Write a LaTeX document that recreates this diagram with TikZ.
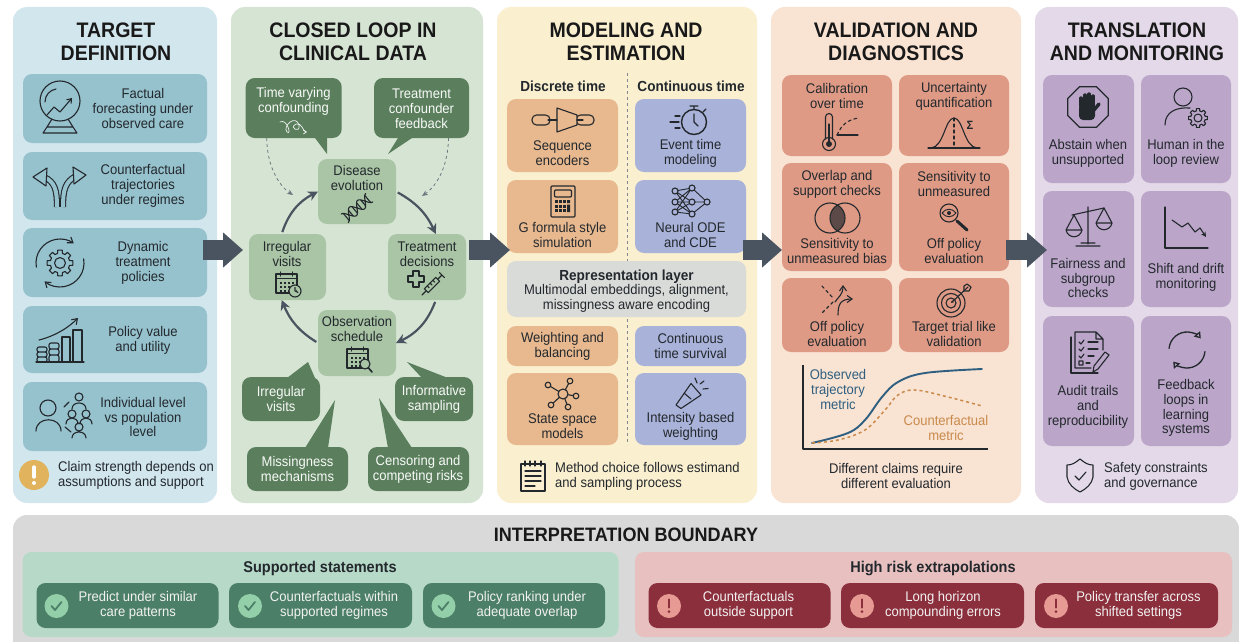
\documentclass[tikz,border=0pt]{standalone}
\usepackage{fontspec}
\setmainfont[FakeStretch=0.93]{Liberation Sans}
\usepackage{xcolor}
\usetikzlibrary{arrows.meta,calc}
\definecolor{ink}{HTML}{23282D}
\definecolor{slate}{HTML}{4A5461}
\definecolor{paleBlue}{HTML}{D2E6EE}
\definecolor{cardTeal}{HTML}{96C2CD}
\definecolor{paleGreen}{HTML}{D6E4D3}
\definecolor{cardSage}{HTML}{A9C5A5}
\definecolor{cardMoss}{HTML}{5B7F5D}
\definecolor{paleCream}{HTML}{FAEFCF}
\definecolor{cardOrange}{HTML}{E8B98F}
\definecolor{cardPeri}{HTML}{A9B2D8}
\definecolor{cardGrey}{HTML}{D9DBD9}
\definecolor{palePeach}{HTML}{F9E3D3}
\definecolor{cardCoral}{HTML}{DE9A85}
\definecolor{paleLilac}{HTML}{E3D9E8}
\definecolor{cardLilac}{HTML}{BBA6C9}
\definecolor{boundary}{HTML}{D9D9D9}
\definecolor{okPale}{HTML}{B7D9C8}
\definecolor{okDark}{HTML}{4C7F68}
\definecolor{okBadgeFill}{HTML}{93CFA8}
\definecolor{riskPale}{HTML}{E8C0C0}
\definecolor{riskDark}{HTML}{8C2F3C}
\definecolor{riskBadgeFill}{HTML}{E69A93}
\definecolor{amber}{HTML}{E0B35C}
\definecolor{obsBlue}{HTML}{2F5F80}
\definecolor{cfOrange}{HTML}{C98A4B}
\tikzset{
  sizeBox/.style 2 args={minimum width=#1, minimum height=#2, inner sep=0, outer sep=0},
  panelBox/.style={rounded corners=14},
  cardBox/.style={rounded corners=9},
  titleText/.style={font=\fontsize{21}{23}\selectfont\bfseries, text=black!90, align=center, inner sep=0},
  cardText/.style={font=\fontsize{14}{14.8}\selectfont, text=ink, align=center, inner sep=0},
  noteText/.style={cardText, align=left},
  calloutText/.style={cardText, text=white!92!cardSage},
  whiteText/.style={cardText, text=white!95!black},
  headText/.style={font=\fontsize{14.6}{16}\selectfont\bfseries, text=ink, align=center, inner sep=0},
  subHead/.style={headText, font=\fontsize{15.6}{17}\selectfont\bfseries},
  iconLine/.style={draw=ink, line width=1.1, line cap=round, line join=round},
  loopArrow/.style={draw=slate, line width=2.2, -{Stealth[length=10pt,width=10pt]}, shorten <=2pt},
  pressureArrow/.style={draw=slate!80, line width=0.8, dashed, -{Stealth[length=6pt,width=5pt]}},
  bigArrow/.style={draw=slate, line width=20, -{Triangle[length=20pt,width=34pt]}},
  gearIcon/.pic={
    \draw[iconLine] (-10:1) \foreach \a in {0,45,...,315} { -- (\a-10:1) -- (\a+10:1) -- (\a+14:.76) -- (\a+31:.76)} -- cycle;
    \draw[iconLine] (0,0) circle (.42);
  },
  calIcon/.pic={
    \draw[iconLine] (-10.5,-9) rectangle (10.5,10);
    \draw[iconLine] (-10.5,-4.5) -- (10.5,-4.5) (-6,-11) -- (-6,-7) (6,-11) -- (6,-7);
    \foreach \i in {-7,-3,1,5} \foreach \j in {-1,3,7} \fill[ink] (\i,\j) rectangle +(2.2,1.8);
  },
  okBadge/.pic={
    \fill[okBadgeFill] (0,0) circle (12);
    \draw[draw=okDark, line width=1.8, line cap=round, line join=round] (-5,0) -- (-1.5,4) -- (5,-4);
  },
  riskBadge/.pic={
    \fill[riskBadgeFill] (0,0) circle (12);
    \draw[draw=riskDark, line width=2.4, line cap=round] (0,-6.5) -- (0,1.5);
    \fill[riskDark] (0,5.6) circle (1.5);
  }
}
\begin{document}
\begin{tikzpicture}[x=1pt,y=-1pt]
  \useasboundingbox (0,0) rectangle (1239,642);
  \clip (0,0) rectangle (1239,642);
  \fill[white] (0,0) rectangle (1239,642);

  % panels
  \node[sizeBox={204}{496}, panelBox, fill=paleBlue] (target) at (115,255) {};
  \node[sizeBox={252}{496}, panelBox, fill=paleGreen] (loop) at (357,255) {};
  \node[sizeBox={260}{496}, panelBox, fill=paleCream] (model) at (627,255) {};
  \node[sizeBox={250}{496}, panelBox, fill=palePeach] (valid) at (896,255) {};
  \node[sizeBox={203}{496}, panelBox, fill=paleLilac] (trans) at (1136.5,255) {};

  \node[titleText] (titleTarget) at (116,41.5) {TARGET\\DEFINITION};
  \node[titleText] (titleLoop) at (353,41.5) {CLOSED LOOP IN\\CLINICAL DATA};
  \node[titleText] (titleModel) at (626,41.5) {MODELING AND\\ESTIMATION};
  \node[titleText] (titleValid) at (896,41.5) {VALIDATION AND\\DIAGNOSTICS};
  \node[titleText] (titleTrans) at (1137,41.5) {TRANSLATION\\AND MONITORING};

  % target definition
  \node[sizeBox={184}{69}, cardBox, fill=cardTeal] (cardFactual) at (115,108.5) {};
  \node[sizeBox={184}{68}, cardBox, fill=cardTeal] (cardCounter) at (115,186) {};
  \node[sizeBox={184}{69}, cardBox, fill=cardTeal] (cardDynamic) at (115,262.5) {};
  \node[sizeBox={184}{67}, cardBox, fill=cardTeal] (cardValue) at (115,339.5) {};
  \node[sizeBox={184}{69}, cardBox, fill=cardTeal] (cardLevel) at (115,416.5) {};
  \node[cardText] (textFactual) at (143,108.5) {Factual\\forecasting under\\observed care};
  \node[cardText] (textCounter) at (143,186) {Counterfactual\\trajectories\\under regimes};
  \node[cardText] (textDynamic) at (143,263) {Dynamic\\treatment\\policies};
  \node[cardText] (textValue) at (143,340) {Policy value\\and utility};
  \node[cardText] (textLevel) at (143,417) {Individual level\\vs population\\level};

  \draw[iconLine] (60,101) circle (20);
  \draw[iconLine] (45,102) .. controls (45,95) and (50,90) .. (56,89);
  \draw[iconLine, -{Straight Barb[length=4pt,width=6pt]}] (47,115) -- (54,107) -- (60,112) -- (72,98);
  \draw[iconLine] (52,119) -- (47,127) -- (73,127) -- (68,119) (47,127) -- (43,133) -- (77,133) -- (73,127);

  \draw[draw=ink, double=cardTeal, double distance=4, line width=1.1] (57,207) .. controls (57,190) and (55,182) .. (44,177);
  \draw[draw=ink, double=cardTeal, double distance=4, line width=1.1] (63,207) .. controls (63,190) and (65,182) .. (76,176);
  \draw[iconLine, fill=cardTeal] (33,177) -- (47,168) -- (46,186) -- cycle;
  \draw[iconLine, fill=cardTeal] (86,175) -- (73,167) -- (74,184) -- cycle;

  \pic[scale=13] at (60,263) {gearIcon};
  \draw[iconLine, -{Straight Barb[length=5pt,width=7pt]}] ($(60,263)+(170:24)$) arc (170:305:24);
  \draw[iconLine, -{Straight Barb[length=5pt,width=7pt]}] ($(60,263)+(-10:24)$) arc (-10:130:24);

  \draw[iconLine] (62,337) rectangle (70,362) (73,330) rectangle (82,362) (36,362) -- (84,362);
  \draw[iconLine, rounded corners=2] (37,347) rectangle (47,352) (37,352) rectangle (47,357) (37,357) rectangle (47,362);
  \draw[iconLine, rounded corners=2] (49,343) rectangle (59,349) (49,349) rectangle (59,355) (49,355) rectangle (59,362);
  \draw[iconLine, -{Straight Barb[length=5pt,width=7pt]}] (39,340) .. controls (55,336) and (68,328) .. (78,318);

  \draw[iconLine] (48,408) circle (8) (36,431) .. controls (36,416) and (61,416) .. (61,431);
  \draw[iconLine] (79,397) circle (4) (72,409) .. controls (72,401) and (86,401) .. (86,409);
  \draw[iconLine] (72,414) circle (4) (66,424) .. controls (66,416) and (78,416) .. (78,424);
  \draw[iconLine] (86,414) circle (4) (80,424) .. controls (80,416) and (92,416) .. (92,424);
  \draw[iconLine] (79,427) circle (4) (72,438) .. controls (72,430) and (86,430) .. (86,438);
  \draw[iconLine] (64,407) -- (69,402) (65,427) -- (71,432);

  \node[circle, minimum size=30, inner sep=0, fill=amber] (claimBadge) at (34,475) {};
  \draw[draw=white, line width=3.4, line cap=round] (34,467) -- (34,477);
  \fill[white] (34,483) circle (2);
  \node[noteText, anchor=west] (textClaim) at (58,475.5) {Claim strength depends on\\assumptions and support};

  % closed loop
  \fill[cardMoss] (315,138) -- (327,154) -- (327,138) -- cycle;
  \fill[cardMoss] (398,138) -- (388,154) -- (412,138) -- cycle;
  \fill[cardMoss] (287,378) -- (308,362) -- (315,378) -- cycle;
  \fill[cardMoss] (422,378) -- (407,362) -- (448,378) -- cycle;
  \fill[cardMoss] (305,448) -- (335,400) -- (328,448) -- cycle;
  \fill[cardMoss] (388,448) -- (379,398) -- (412,448) -- cycle;
  \node[sizeBox={96}{60}, cardBox, fill=cardMoss] (timeVarying) at (293.7,108) {};
  \node[sizeBox={95}{60}, cardBox, fill=cardMoss] (feedback) at (421.5,108) {};
  \node[sizeBox={78}{44}, cardBox, fill=cardMoss] (visitsNote) at (281,399) {};
  \node[sizeBox={78}{44}, cardBox, fill=cardMoss] (samplingNote) at (434,399) {};
  \node[sizeBox={101}{44}, cardBox, fill=cardMoss] (missingNote) at (297.5,469) {};
  \node[sizeBox={101}{44}, cardBox, fill=cardMoss] (censorNote) at (418.5,469) {};
  \node[calloutText] (textTimeVarying) at (293.5,101.5) {Time varying\\confounding};
  \node[calloutText] (textFeedback) at (421.5,108.5) {Treatment\\confounder\\feedback};
  \node[calloutText] (textVisitsNote) at (281,399) {Irregular\\visits};
  \node[calloutText] (textSamplingNote) at (434,399) {Informative\\sampling};
  \node[calloutText] (textMissingNote) at (297.5,469) {Missingness\\mechanisms};
  \node[calloutText] (textCensorNote) at (418,469) {Censoring and\\competing risks};
  \draw[draw=white!90!cardMoss, line width=.7, line cap=round, -{Straight Barb[length=3pt,width=4pt]}] (280,122) .. controls (287,118) and (292,136) .. (287,132) .. controls (282,126) and (296,114) .. (299,125) .. controls (301,134) and (288,128) .. (296,124) .. controls (302,122) and (303,132) .. (307,132);

  \node[sizeBox={78}{65}, cardBox, fill=cardSage] (disease) at (357,191.5) {};
  \node[sizeBox={77}{66}, cardBox, fill=cardSage] (visits) at (287.5,267) {};
  \node[sizeBox={78}{66}, cardBox, fill=cardSage] (treatment) at (427,267) {};
  \node[sizeBox={78}{66}, cardBox, fill=cardSage] (schedule) at (357,343) {};
  \node[cardText] (textDisease) at (357,178) {Disease\\evolution};
  \node[cardText] (textVisits) at (287,254) {Irregular\\visits};
  \node[cardText] (textTreatment) at (427,254) {Treatment\\decisions};
  \node[cardText] (textSchedule) at (357,329) {Observation\\schedule};

  \draw[loopArrow] (visits.100) to[bend left=22] (disease.west);
  \draw[loopArrow] (disease.east) to[bend left=18] (treatment.75);
  \draw[loopArrow] (treatment.-75) to[bend left=22] (schedule.east);
  \draw[loopArrow] (schedule.west) to[bend left=18] (visits.-100);
  \coordinate (pressureL) at (293,195);
  \coordinate (pressureR) at (422,196);
  \draw[pressureArrow] (timeVarying.228) .. controls (267,165) and (278,185) .. (pressureL);
  \draw[pressureArrow] (feedback.-48) .. controls (448,165) and (438,185) .. (pressureR);

  \begin{scope}[shift={(357,208)}, rotate=40]
    \draw[iconLine] plot[smooth, domain=-16:16, samples=33] (\x,{5.5*sin(\x*17)});
    \draw[iconLine] plot[smooth, domain=-16:16, samples=33] (\x,{-5.5*sin(\x*17)});
    \foreach \x in {-14,-11,-8,-3,0.5,3,8,11,14} \draw[iconLine] (\x,{5.5*sin(\x*17)}) -- (\x,{-5.5*sin(\x*17)});
  \end{scope}
  \pic at (286.5,283) {calIcon};
  \draw[iconLine, fill=cardSage] (295,291) circle (6) (295,287.5) -- (295,291) -- (298,292.5);
  \pic at (357.5,358) {calIcon};
  \draw[iconLine, fill=cardSage] (365,364) circle (5);
  \draw[iconLine, line width=1.6] (368.5,368) -- (372,372);
  \draw[iconLine] (413,271) -- (419,271) -- (419,276) -- (424,276) -- (424,282) -- (419,282) -- (419,287) -- (413,287) -- (413,282) -- (408,282) -- (408,276) -- (413,276) -- cycle;
  \begin{scope}[shift={(432,285)}, rotate=45]
    \draw[iconLine, fill=cardSage] (-8,-2.8) rectangle (8,2.8);
    \draw[iconLine] (-8,0) -- (-14,0) (8,0) -- (14,0) (14,-3.5) -- (14,3.5) (-4,-2.8) -- (-4,0) (0,-2.8) -- (0,0) (4,-2.8) -- (4,0);
  \end{scope}

  % modeling
  \draw[draw=slate!70, line width=.9, dashed] (627,73) -- (627,445);
  \node[headText] (headDiscrete) at (563,86) {Discrete time};
  \node[headText] (headContinuous) at (691,86) {Continuous time};
  \node[sizeBox={111}{73}, cardBox, fill=cardOrange] (cardEncoder) at (562.5,135.5) {};
  \node[sizeBox={111}{73}, cardBox, fill=cardPeri] (cardEvent) at (690.5,135.5) {};
  \node[sizeBox={111}{73}, cardBox, fill=cardOrange] (cardFormula) at (562.5,216.5) {};
  \node[sizeBox={111}{73}, cardBox, fill=cardPeri] (cardNeural) at (690.5,216.5) {};
  \node[sizeBox={239}{56}, cardBox, fill=cardGrey] (cardRep) at (626.5,289) {};
  \node[sizeBox={111}{40}, cardBox, fill=cardOrange] (cardWeight) at (562.5,346) {};
  \node[sizeBox={111}{40}, cardBox, fill=cardPeri] (cardSurvival) at (690.5,346) {};
  \node[sizeBox={111}{72}, cardBox, fill=cardOrange] (cardState) at (562.5,409) {};
  \node[sizeBox={111}{72}, cardBox, fill=cardPeri] (cardIntensity) at (690.5,409) {};
  \node[cardText] (textEncoder) at (562.5,153) {Sequence\\encoders};
  \node[cardText] (textEvent) at (690.5,153) {Event time\\modeling};
  \node[cardText] (textFormula) at (562.5,235) {G formula style\\simulation};
  \node[cardText] (textNeural) at (690.5,235) {Neural ODE\\and CDE};
  \node[cardText] (textRep) at (626.5,291) {{\fontsize{14.6}{15}\selectfont\bfseries Representation layer}\\Multimodal embeddings, alignment,\\missingness aware encoding};
  \node[cardText] (textWeight) at (562.5,346) {Weighting and\\balancing};
  \node[cardText] (textSurvival) at (690.5,346) {Continuous\\time survival};
  \node[cardText] (textState) at (562.5,426.5) {State space\\models};
  \node[cardText] (textIntensity) at (690.5,426.5) {Intensity based\\weighting};
  \node[noteText, anchor=west] (textMethod) at (555,476) {Method choice follows estimand\\and sampling process};

  \draw[iconLine, rounded corners=4.5] (532,115) rectangle (550,125) (576,115) rectangle (594,125);
  \draw[iconLine, fill=cardOrange] (557,108) -- (577,115) -- (577,125) -- (557,132) -- cycle;
  \draw[iconLine] (548,120) -- (557,120) (577,120) -- (583,120);
  \draw[iconLine, rounded corners=1] (551,186) rectangle (575,217) (554.5,190) rectangle (571.5,197);
  \foreach \i in {554.5,558.7,562.9} \foreach \j in {200,204.5,209} \fill[ink] (\i,\j) rectangle +(3,3);
  \fill[ink] (567.1,200) rectangle +(3,3) (567.1,204.5) rectangle +(3,7.5);
  \draw[iconLine, line width=1.4] (694,122) circle (12.5) (694,114) -- (694,122) -- (698,126);
  \draw[iconLine] (694,109.5) -- (694,106) (690,106) -- (698,106) (703,112) -- (706,109);
  \draw[iconLine] (675,116) -- (680,116) (670,122) -- (679,122) (675,128) -- (680,128);
  \draw[iconLine, line width=.9] (675,191) -- (692,188) (675,191) -- (692,202) (675,191) -- (692,214) (675,202) -- (692,188) (675,202) -- (692,202) (675,202) -- (692,214) (675,212) -- (692,188) (675,212) -- (692,202) (675,212) -- (692,214) (692,188) -- (707,202) (692,202) -- (707,202) (692,214) -- (707,202);
  \draw[iconLine, fill=cardPeri] (675,191) circle (3) (675,202) circle (3) (675,212) circle (3) (692,188) circle (3) (692,202) circle (3) (692,214) circle (3) (707,202) circle (3);
  \draw[iconLine] (563,394) -- (548,385) (563,394) -- (570,381) (563,394) -- (576,396) (563,394) -- (568,407) (563,394) -- (551,405);
  \draw[iconLine, fill=cardOrange] (563,394) circle (5) (548,385) circle (2.8) (570,381) circle (2.8) (576,396) circle (2.8) (568,407) circle (2.8) (551,405) circle (2.8);
  \draw[iconLine] (676,405) -- (681,408.5) -- (701,395) -- (691,383.5) -- cycle (684,393) -- (691,399);
  \draw[iconLine] (695,378) -- (697,383) (700,384) -- (704,381) (703,389) -- (708,388.5);
  \draw[iconLine, line width=1.2] (521,464) rectangle (545,491);
  \draw[iconLine] (525,461) -- (525,466) (530,461) -- (530,466) (535,461) -- (535,466) (541,461) -- (541,466);
  \draw[iconLine] (525,471) -- (541,471) (525,476) -- (541,476) (525,481) -- (541,481) (525,486) -- (535,486);

  % validation
  \node[sizeBox={110}{81}, cardBox, fill=cardCoral] (cardCalib) at (837,115.5) {};
  \node[sizeBox={110}{81}, cardBox, fill=cardCoral] (cardUncert) at (954,115.5) {};
  \node[sizeBox={110}{108}, cardBox, fill=cardCoral] (cardOverlap) at (837,217) {};
  \node[sizeBox={110}{108}, cardBox, fill=cardCoral] (cardSens) at (954,217) {};
  \node[sizeBox={110}{74}, cardBox, fill=cardCoral] (cardOff) at (837,315) {};
  \node[sizeBox={110}{74}, cardBox, fill=cardCoral] (cardTrial) at (954,315) {};
  \node[cardText] (textCalib) at (837,96) {Calibration\\over time};
  \node[cardText] (textUncert) at (954,96) {Uncertainty\\quantification};
  \node[cardText] (textOverlap) at (837,184) {Overlap and\\support checks};
  \node[cardText] (textBias) at (837,251) {Sensitivity to\\unmeasured bias};
  \node[cardText] (textSens) at (954,184) {Sensitivity to\\unmeasured};
  \node[cardText] (textPolicy) at (954,251) {Off policy\\evaluation};
  \node[cardText] (textOff) at (837,334) {Off policy\\evaluation};
  \node[cardText] (textTrial) at (954,334) {Target trial like\\validation};

  \draw[iconLine] (825.5,139) -- (825.5,117) arc (180:360:3.5) -- (832.5,139);
  \draw[iconLine] (829,144) circle (6.5);
  \fill[ink] (829,144) circle (3);
  \draw[iconLine] (829,144) -- (829,124);
  \draw[iconLine] (837,135) -- (858,135);
  \draw[iconLine, dashed] (837,135) .. controls (842,124) and (848,120) .. (858,118);
  \draw[iconLine] (928,148) -- (980,148);
  \draw[iconLine] (931,148) .. controls (944,147) and (945,118) .. (954,118) .. controls (963,118) and (964,147) .. (977,148);
  \draw[iconLine, dashed] (954,118) -- (954,148);
  \node[font=\fontsize{12}{12}\selectfont\bfseries, text=ink, inner sep=0] (sigmaMark) at (970,125) {Σ};
  \begin{scope}
    \clip (830,218) circle (15);
    \fill[ink!70!cardCoral] (845,218) circle (15);
  \end{scope}
  \draw[iconLine] (830,218) circle (15) (845,218) circle (15);
  \draw[iconLine] (949,213) circle (9);
  \draw[iconLine, line width=.9] (942,213) .. controls (946,208) and (952,208) .. (956,213) .. controls (952,218) and (946,218) .. (942,213);
  \fill[ink] (949,213) circle (2);
  \draw[iconLine, line width=3] (957,221) -- (967,230);
  \draw[iconLine, dashed] (822,286) -- (833,298) (833,302) -- (822,313);
  \draw[iconLine, -{Straight Barb[length=5pt,width=7pt]}] (835,302) .. controls (838,297) and (843,295) .. (843,285);
  \draw[iconLine, -{Straight Barb[length=5pt,width=7pt]}] (838,315) .. controls (838,305) and (840,299) .. (853,299);
  \draw[iconLine] (951,303) circle (14) (951,303) circle (9.5) (951,303) circle (5);
  \draw[iconLine, -{Stealth[length=3pt,width=3pt]}] (968,287) -- (951,303);
  \draw[iconLine] (964,286) -- (964,291) -- (969,291) -- (971,287) -- (967,284) -- cycle;

  % metric chart
  \draw[iconLine, line cap=butt, line width=1.2] (803,365) -- (803,449) -- (988,449);
  \draw[draw=obsBlue, line width=1.9, line cap=round] plot[smooth, tension=.6] coordinates {(812,443) (848,433) (865,420) (882,397) (898,382) (925,373) (982,369)};
  \draw[draw=cfOrange, line width=1.5, dashed] plot[smooth, tension=.6] coordinates {(812,443) (838,440) (865,430) (885,410) (898,395) (915,390) (948,397) (982,406)};
  \node[cardText, text=obsBlue] (labelObserved) at (838,389.5) {Observed\\trajectory\\metric};
  \node[cardText, text=cfOrange] (labelCounter) at (946,428) {Counterfactual\\metric};
  \node[cardText] (textClaims) at (896,476) {Different claims require\\different evaluation};

  % translation
  \node[sizeBox={91}{108}, cardBox, fill=cardLilac] (cardAbstain) at (1088.5,129) {};
  \node[sizeBox={90}{108}, cardBox, fill=cardLilac] (cardHuman) at (1186,129) {};
  \node[sizeBox={91}{116}, cardBox, fill=cardLilac] (cardFair) at (1088.5,249) {};
  \node[sizeBox={90}{116}, cardBox, fill=cardLilac] (cardShift) at (1186,249) {};
  \node[sizeBox={91}{130}, cardBox, fill=cardLilac] (cardAudit) at (1088.5,381) {};
  \node[sizeBox={90}{130}, cardBox, fill=cardLilac] (cardLoops) at (1186,381) {};
  \node[cardText] (textAbstain) at (1088,153) {Abstain when\\unsupported};
  \node[cardText] (textHuman) at (1186,153) {Human in the\\loop review};
  \node[cardText] (textFair) at (1088,278) {Fairness and\\subgroup\\checks};
  \node[cardText] (textShift) at (1186,277.5) {Shift and drift\\monitoring};
  \node[cardText] (textAudit) at (1088,407) {Audit trails\\and\\reproducibility};
  \node[cardText] (textLoops) at (1186,408) {Feedback\\loops in\\learning\\systems};
  \node[noteText, anchor=west] (textSafety) at (1104,476) {Safety constraints\\and governance};

  \draw[iconLine, line width=1.3] ($(1088,107)+(22.5:22)$) -- ($(1088,107)+(67.5:22)$) -- ($(1088,107)+(112.5:22)$) -- ($(1088,107)+(157.5:22)$) -- ($(1088,107)+(202.5:22)$) -- ($(1088,107)+(247.5:22)$) -- ($(1088,107)+(292.5:22)$) -- ($(1088,107)+(337.5:22)$) -- cycle;
  \draw[iconLine, line width=3.4] (1081,106) -- (1081,98) (1085,106) -- (1085,95) (1089,106) -- (1089,94) (1093,106) -- (1093,96);
  \fill[ink, rounded corners=4] (1079,104) rectangle (1095,120);
  \draw[iconLine, line width=3.4] (1094,110) -- (1099,104);
  \draw[iconLine] (1183,97) circle (9) (1165,125) .. controls (1165,112) and (1176,107) .. (1190,108);
  \pic[scale=9.5] at (1198,118) {gearIcon};
  \draw[iconLine] (1088,207) -- (1088,244) (1076,246) -- (1100,246) (1081,243) -- (1095,243) (1072,215) -- (1104,208);
  \draw[iconLine] (1074,215) -- (1066,230) -- (1082,230) -- cycle (1066,230) .. controls (1068,239) and (1080,239) .. (1082,230);
  \draw[iconLine] (1104,208) -- (1096,223) -- (1112,223) -- cycle (1096,223) .. controls (1098,232) and (1110,232) .. (1112,223);
  \draw[iconLine] (1165,207) -- (1165,248) -- (1208,248);
  \draw[iconLine, -{Stealth[length=5pt,width=5pt]}] (1172,220) -- (1182,227) -- (1188,223) -- (1195,232) -- (1200,228) -- (1206,237);
  \draw[iconLine] (1071,337) -- (1071,373) -- (1098,373);
  \draw[iconLine] (1075,332) -- (1096,332) -- (1103,339) -- (1103,350) (1103,339) -- (1096,339) -- (1096,332) (1075,332) -- (1075,368) -- (1091,368);
  \draw[iconLine] (1079,342) -- (1081,344) -- (1084,340) (1079,349) -- (1081,351) -- (1084,347) (1079,356) -- (1081,358) -- (1084,354) (1079,361) rectangle (1083,365);
  \draw[iconLine] (1088,342) -- (1098,342) (1088,349) -- (1098,349) (1088,356) -- (1094,356) (1086,363) -- (1090,363);
  \draw[iconLine, fill=cardLilac] (1093,372) -- (1094,366) -- (1105,352) -- (1109,355) -- (1098,369) -- cycle;
  \draw[iconLine, line width=1.3, -{Triangle[open,length=6pt,width=8pt]}] ($(1187,350)+(185:18)$) arc (185:320:18);
  \draw[iconLine, line width=1.3, -{Triangle[open,length=6pt,width=8pt]}] ($(1187,350)+(5:18)$) arc (5:140:18);
  \draw[iconLine] (1080,459) .. controls (1075,463) and (1072,465) .. (1067,465) -- (1067,477) .. controls (1068,484) and (1074,489) .. (1080,492) .. controls (1086,489) and (1092,484) .. (1093,477) -- (1093,465) .. controls (1088,465) and (1085,463) .. (1080,459) -- cycle;
  \draw[iconLine] (1075,476) -- (1079,480) -- (1086,472);

  % interpretation boundary
  \node[sizeBox={1226}{150}, panelBox, fill=boundary] (boundaryBox) at (626,590) {};
  \node[titleText, font=\fontsize{19.4}{21}\selectfont\bfseries] (titleBoundary) at (626,535) {INTERPRETATION BOUNDARY};
  \node[sizeBox={596}{85}, cardBox, fill=okPale] (supported) at (320.5,594.5) {};
  \node[sizeBox={597}{85}, cardBox, fill=riskPale] (highRisk) at (933.5,594.5) {};
  \node[subHead] (headSupported) at (320,568) {Supported statements};
  \node[subHead] (headRisk) at (933,568) {High risk extrapolations};

  \node[sizeBox={182}{45}, cardBox, fill=okDark] (okPredict) at (127.5,605.5) {};
  \node[sizeBox={183}{45}, cardBox, fill=okDark] (okCounter) at (320.5,605.5) {};
  \node[sizeBox={182}{45}, cardBox, fill=okDark] (okPolicy) at (514,605.5) {};
  \node[sizeBox={182}{45}, cardBox, fill=riskDark] (riskCounter) at (739.5,605.5) {};
  \node[sizeBox={183}{45}, cardBox, fill=riskDark] (riskHorizon) at (932.5,605.5) {};
  \node[sizeBox={183}{45}, cardBox, fill=riskDark] (riskTransfer) at (1126.5,605.5) {};
  \node[whiteText] (textPredict) at (138,605.5) {Predict under similar\\care patterns};
  \node[whiteText] (textWithin) at (334,605.5) {Counterfactuals within\\supported regimes};
  \node[whiteText] (textRanking) at (527,605.5) {Policy ranking under\\adequate overlap};
  \node[whiteText] (textOutside) at (748.5,605.5) {Counterfactuals\\outside support};
  \node[whiteText] (textHorizon) at (943,605.5) {Long horizon\\compounding errors};
  \node[whiteText] (textTransfer) at (1138.5,605.5) {Policy transfer across\\shifted settings};
  \pic at (56.5,606) {okBadge};
  \pic at (250,606) {okBadge};
  \pic at (443.5,606) {okBadge};
  \pic at (669,606) {riskBadge};
  \pic at (862,606) {riskBadge};
  \pic at (1056,606) {riskBadge};

  % panel flow
  \draw[bigArrow] ([xshift=-14pt,yshift=5pt]target.east) -- ([xshift=12pt,yshift=5pt]loop.west);
  \draw[bigArrow] ([xshift=-14pt,yshift=5pt]loop.east) -- ([xshift=13pt,yshift=5pt]model.west);
  \draw[bigArrow] ([xshift=-14pt,yshift=5pt]model.east) -- ([xshift=11pt,yshift=5pt]valid.west);
  \draw[bigArrow] ([xshift=-15pt,yshift=5pt]valid.east) -- ([xshift=12pt,yshift=5pt]trans.west);
\end{tikzpicture}
\end{document}
